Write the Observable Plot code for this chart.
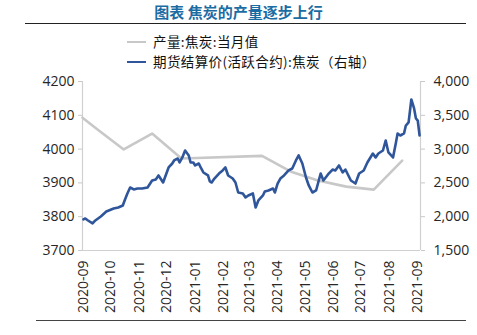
<!DOCTYPE html>
<html><head><meta charset="utf-8">
<script src="https://cdn.jsdelivr.net/npm/d3@7"></script>
<script src="https://cdn.jsdelivr.net/npm/@observablehq/plot@0.6"></script>
<style>
body{margin:0;background:#fff;font-family:"Noto Sans CJK SC","Open Sans",sans-serif;}
#wrap{position:relative;width:477px;height:335px;overflow:hidden;background:#fff;}
#title{position:absolute;left:0;width:477px;top:2px;text-align:center;font-size:15px;font-weight:bold;color:#1b6ca3;line-height:20px;}
#rule1{position:absolute;left:25px;width:441px;top:23px;height:0;border-top:1.6px solid #222;}
#rule2{position:absolute;left:36px;width:430px;top:320px;height:0;border-top:1.6px solid #444;}
.leg{position:absolute;left:127px;font-size:13.5px;letter-spacing:0.4px;line-height:16px;height:16px;color:#111;white-space:nowrap;}
.leg .sw{display:inline-block;width:19px;height:0;border-top:2.5px solid;vertical-align:middle;margin-right:7px;position:relative;top:-1px;}
#chart{position:absolute;left:0;top:70px;}
</style></head>
<body>
<div id="wrap">
  <div id="title">图表 焦炭的产量逐步上行</div>
  <div id="rule1"></div>
  <div class="leg" style="top:33px"><span class="sw" style="border-color:#c8c8c8"></span>产量:焦炭:当月值</div>
  <div class="leg" style="top:53px"><span class="sw" style="border-color:#2f559a"></span>期货结算价(活跃合约):焦炭（右轴）</div>
  <div id="chart"></div>
  <div id="rule2"></div>
</div>
<script>
const monthTicks = ["2020-09","2020-10","2020-11","2020-12","2021-01","2021-02","2021-03","2021-04","2021-05","2021-06","2021-07","2021-08","2021-09"];
const leftTicks = [3700,3800,3900,4000,4100,4200];
const rightTicks = [1500,2000,2500,3000,3500,4000];

const prodDates = ["2020-08-31","2020-09-15","2020-10-15","2020-11-15","2020-12-17","2021-03-15","2021-04-15","2021-05-15","2021-06-15","2021-07-15","2021-08-15"];
const prodValues = [4093,4061,3999,4046,3972,3980,3934,3907,3889,3880,3966];

const priceDates = [
"2020-09-01","2020-09-03","2020-09-06","2020-09-11","2020-09-14","2020-09-20","2020-09-26",
"2020-10-04","2020-10-09","2020-10-14","2020-10-16","2020-10-19","2020-10-22","2020-10-26","2020-10-30",
"2020-11-04","2020-11-10","2020-11-15","2020-11-19","2020-11-22","2020-11-27",
"2020-12-03","2020-12-07","2020-12-09","2020-12-13","2020-12-15","2020-12-18","2020-12-21","2020-12-25","2020-12-27","2020-12-30",
"2021-01-01","2021-01-05","2021-01-07","2021-01-10","2021-01-15","2021-01-17","2021-01-19","2021-01-22","2021-01-27","2021-01-31",
"2021-02-03","2021-02-06","2021-02-11","2021-02-14","2021-02-17","2021-02-22","2021-02-25","2021-02-28",
"2021-03-05","2021-03-08","2021-03-11","2021-03-16","2021-03-18","2021-03-22","2021-03-27","2021-03-29",
"2021-04-01","2021-04-04","2021-04-08","2021-04-13","2021-04-17","2021-04-21","2021-04-24","2021-04-28",
"2021-05-02","2021-05-05","2021-05-09","2021-05-13","2021-05-18","2021-05-21","2021-05-26","2021-05-31",
"2021-06-03","2021-06-07","2021-06-11","2021-06-14","2021-06-20","2021-06-25","2021-06-29",
"2021-07-04","2021-07-08","2021-07-14","2021-07-17","2021-07-20","2021-07-25","2021-07-28","2021-07-31",
"2021-08-05","2021-08-08","2021-08-10","2021-08-13","2021-08-17","2021-08-19","2021-08-22","2021-08-25","2021-08-28","2021-08-30",
"2021-09-01","2021-09-03"];
const priceValues = [
1960,1974,1944,1900,1944,2003,2077,
2122,2136,2166,2240,2344,2432,2403,2417,
2417,2432,2536,2551,2610,2506,
2728,2787,2832,2861,2802,2876,2979,2906,2802,2802,
2758,2787,2728,2654,2610,2521,2506,2565,2639,2684,
2728,2610,2565,2506,2358,2344,2284,2314,
2344,2136,2240,2314,2373,2388,2417,2358,
2491,2565,2610,2684,2713,2832,2906,2787,
2580,2462,2358,2388,2639,2536,2625,2698,
2684,2758,2654,2698,2536,2491,2639,
2684,2802,2935,2876,2935,2979,3127,2950,
2876,3083,3231,3201,3231,3349,3394,3734,3601,3453,
3423,3201];

const leftDomain = [leftTicks[0], leftTicks[leftTicks.length-1]];
const rightDomain = [rightTicks[0], rightTicks[rightTicks.length-1]];
const toLeft = v => leftDomain[0] + (v - rightDomain[0]) * (leftDomain[1]-leftDomain[0]) / (rightDomain[1]-rightDomain[0]);

const parse = d3.utcParse("%Y-%m-%d");
const prod = prodDates.map((d,i) => ({date: parse(d), v: prodValues[i]}));
const price = priceDates.map((d,i) => ({date: parse(d), v: toLeft(priceValues[i])}));
const monthDates = monthTicks.map(m => d3.utcParse("%Y-%m")(m));
const xDomain = [parse("2020-08-31"), parse("2021-09-04")];

const fmtComma = d3.format(",");
const chart = Plot.plot({
  width: 477, height: 250,
  marginTop: 11, marginBottom: 70, marginLeft: 82, marginRight: 57,
  style: {fontFamily: "'Open Sans', 'Noto Sans CJK SC', sans-serif", fontSize: "14px", color: "#262626", background: "#fff"},
  x: {type: "utc", domain: xDomain},
  y: {domain: leftDomain},
  marks: [
    Plot.ruleX([xDomain[0]], {stroke: "#d0d0d0", strokeWidth: 1.2}),
    Plot.ruleX([xDomain[1]], {stroke: "#d0d0d0", strokeWidth: 1.2}),
    Plot.ruleY([leftDomain[0]], {x1: xDomain[0], x2: xDomain[1], stroke: "#d0d0d0", strokeWidth: 1.2}),
    Plot.axisY({anchor: "left", ticks: leftTicks, tickSize: 4, tickPadding: 4, tickFormat: d => String(d), stroke: "#c8c8c8", fontSize: 14, label: null}),
    Plot.axisY({anchor: "right", ticks: rightTicks.map(toLeft), tickSize: 4, tickPadding: 9, tickFormat: (d,i) => fmtComma(rightTicks[i]), stroke: "#c8c8c8", fontSize: 14, label: null}),
    Plot.axisX({ticks: monthDates, tickFormat: d3.utcFormat("%Y-%m"), tickRotate: -90, tickSize: 0, tickPadding: 10, fontSize: 14, label: null}),
    Plot.line(prod, {x: "date", y: "v", stroke: "#c8c8c8", strokeWidth: 2.6}),
    Plot.line(price, {x: "date", y: "v", stroke: "#2f559a", strokeWidth: 2.6, strokeLinejoin: "round"})
  ]
});
document.getElementById("chart").appendChild(chart);
</script>
</body></html>
